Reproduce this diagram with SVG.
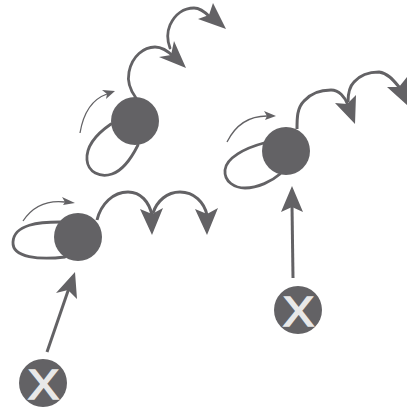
<svg xmlns="http://www.w3.org/2000/svg" width="408" height="410" viewBox="0 0 408 410">
<style>
.n{fill:#636265}
.l{fill:none;stroke:#636265;stroke-width:2.8;stroke-linecap:round}
.t{fill:none;stroke:#636265;stroke-width:1.3}
.s{fill:none;stroke:#636265;stroke-width:3}
.h{fill:#636265}
.x{fill:#e8e8e8;stroke:#e8e8e8;stroke-width:1.6;font-family:"Liberation Sans",Arial,sans-serif;font-size:42px}
</style>
<rect width="408" height="410" fill="#fff"/>
<g id="connectors">
<path class="l" d="M111 124C95 135 86 148 87 160C88 172 100 178 112 174C124 170 133 155 138 145"/>
<path class="l" d="M136 98C130 90 127 82 129 72C132 56 144 47 155 47C162 47 168 51 174 57"/>
<path class="l" d="M170 48C167 40 167 32 170 25C175 14 184 8 194 8C200 8 205 12 210 17"/>
<path class="h" d="M186 68L159 57L171 55L174 41Z"/>
<path class="h" d="M226 29L198 19L209 15L213 3Z"/>
<path class="t" d="M80 133C83 115 90 100 107 94"/>
<path class="h" d="M115 91L102 90L107 94L106 99Z"/>

<path class="l" d="M264 143C245 148 226 158 225 170C224 182 235 188 245 188C258 188 272 181 280 174"/>
<path class="s" d="M297 129C297 118 297 108 304 101C312 92 322 90 331 90C339 90 345 97 348 105"/>
<path class="s" d="M348 102C348 94 349 87 354 82C361 74 371 72 379 72C388 73 394 81 400 88"/>
<path class="h" d="M355 124L335 103L347 104L356 95Z"/>
<path class="h" d="M407 105L387 87L399 87L407 77Z"/>
<path class="t" d="M227 142C235 126 248 116 267 116"/>
<path class="h" d="M276 116L264 111L267 116L265 120Z"/>

<path class="l" d="M60 222C40 222 14 224 13 242C12 258 40 260 65 257"/>
<path class="s" d="M97 220C101 204 113 192 128 192C141 192 149 202 152 215"/>
<path class="s" d="M153 213C157 201 167 192 180 192C194 192 204 202 207 215"/>
<path class="h" d="M152 235L140 209L152 214L163 208Z"/>
<path class="h" d="M207 235L195 209L207 214L218 208Z"/>
<path class="t" d="M23 221C33 206 47 200 65 202"/>
<path class="h" d="M75 203L62 197L65 202L63 205Z"/>

<path class="s" d="M47 352L69 288"/>
<path class="h" d="M75 272L56 293L68 290L77 299Z"/>
<path class="s" d="M293 278L292 205"/>
<path class="h" d="M292 186L281 212L292 207L303 212Z"/>
</g>
<g id="node-top"><circle class="n" cx="135" cy="121" r="24"/></g>
<g id="node-right"><circle class="n" cx="286" cy="151" r="24"/></g>
<g id="node-left"><circle class="n" cx="78" cy="237" r="24"/></g>
<g id="x-left"><circle class="n" cx="43" cy="383" r="24"/><text class="x" x="28" y="399" textLength="31" lengthAdjust="spacingAndGlyphs">X</text></g>
<g id="x-right"><circle class="n" cx="298" cy="310" r="24"/><text class="x" x="283" y="326" textLength="31" lengthAdjust="spacingAndGlyphs">X</text></g>
</svg>
